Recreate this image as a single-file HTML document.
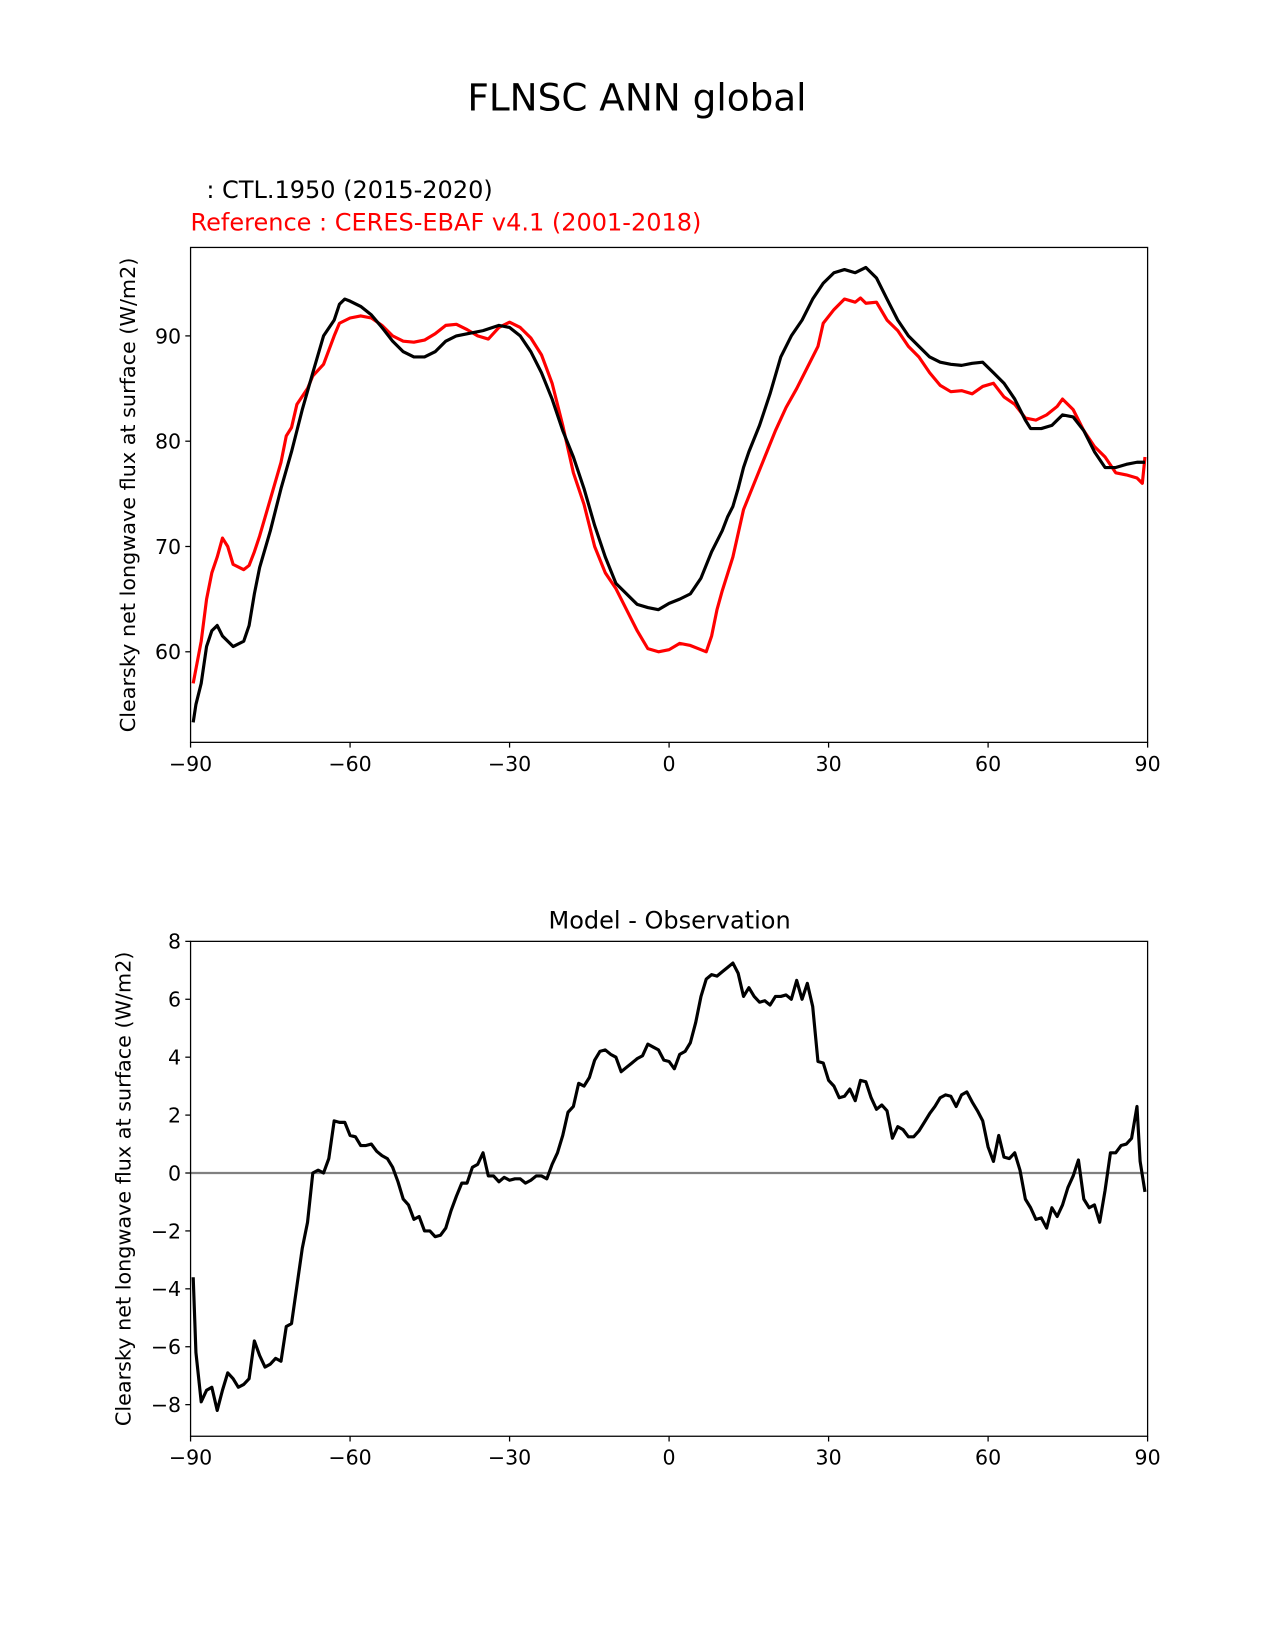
<!DOCTYPE html>
<html><head><meta charset="utf-8"><style>
body{margin:0;background:#fff}
svg{display:block}
svg text{font-family:"DejaVu Sans","Liberation Sans",sans-serif}
</style></head><body>
<svg id="fig" width="1275" height="1650" viewBox="0 0 1211 1567" preserveAspectRatio="none" xmlns="http://www.w3.org/2000/svg">
<rect width="1211" height="1567" fill="#fff"/>
<text x="605" y="105" font-size="35.5" text-anchor="middle">FLNSC ANN global</text>
<text x="196" y="188" font-size="22.8">: CTL.1950 (2015-2020)</text>
<text x="181" y="219" font-size="22.8" fill="#ff0000">Reference : CERES-EBAF v4.1 (2001-2018)</text>
<text transform="translate(128,470) rotate(-90)" font-size="19.7" text-anchor="middle">Clearsky net longwave flux at surface (W/m2)</text>
<text x="636" y="882" font-size="22.8" text-anchor="middle">Model - Observation</text>
<text transform="translate(124,1129) rotate(-90)" font-size="19.7" text-anchor="middle">Clearsky net longwave flux at surface (W/m2)</text>
<g id="top"></g><g id="bot"></g>
</svg>
<script>
const modelLat=[-89.5,-89,-88,-87,-86,-85,-84,-82,-80,-79,-78,-77,-75,-73,-71,-69,-67,-65,-63,-62,-61,-60,-58,-56,-54,-52,-50,-48,-46,-44,-42,-40,-38,-35,-32,-30,-28,-26,-24,-22,-20,-18,-16,-14,-12,-10,-8,-6,-4,-2,0,2,4,6,8,10,11,12,13,14,15,17,19,21,23,25,27,29,31,33,35,37,39,41,43,45,47,49,51,53,55,57,59,61,63,65,67,68,70,72,74,76,78,80,82,84,86,88,89.5];
const modelVal=[53.3,55,57,60.5,62,62.5,61.5,60.5,61,62.5,65.5,68,71.5,75.5,79,83,86.5,90,91.5,93,93.5,93.3,92.8,92,90.8,89.5,88.5,88,88,88.5,89.5,90,90.2,90.5,91,90.8,90,88.5,86.5,84,81,78.5,75.5,72,69,66.5,65.5,64.5,64.2,64,64.6,65,65.5,67,69.5,71.5,72.8,73.8,75.5,77.5,79,81.5,84.5,88,90,91.5,93.5,95,96,96.3,96,96.5,95.5,93.5,91.5,90,89,88,87.5,87.3,87.2,87.4,87.5,86.5,85.5,84,82,81.2,81.2,81.5,82.5,82.3,81,79,77.5,77.5,77.8,78,78];
const refLat=[-89.5,-88,-87,-86,-85,-84,-83,-82,-80,-79,-78,-77,-75,-73,-72,-71,-70,-68,-67,-65,-63,-62,-60,-58,-56,-54,-52,-50,-48,-46,-44,-42,-40,-38,-36,-34,-32,-30,-28,-26,-24,-22,-20,-18,-16,-14,-12,-10,-8,-6,-4,-2,0,2,4,6,7,8,9,10,12,14,16,18,20,22,24,26,28,29,31,33,35,36,37,39,41,43,45,47,49,51,53,55,57,59,61,63,65,67,69,71,73,74,76,78,80,82,84,86,88,89,89.5];
const refVal=[57,61,65,67.5,69,70.8,70,68.3,67.8,68.2,69.5,71,74.5,78,80.5,81.3,83.5,85,86.2,87.3,90,91.2,91.7,91.9,91.7,91,90,89.5,89.4,89.6,90.2,91,91.1,90.6,90,89.7,90.8,91.3,90.8,89.8,88.2,85.5,81.5,77,74,70,67.5,66,64,62,60.3,60,60.2,60.8,60.6,60.2,60,61.5,64,65.8,69,73.5,76,78.5,81,83.2,85,87,89,91.2,92.5,93.5,93.2,93.6,93.1,93.2,91.5,90.5,89,88,86.5,85.3,84.7,84.8,84.5,85.2,85.5,84.2,83.5,82.2,82,82.5,83.3,84,83,81,79.5,78.5,77,76.8,76.5,76,78.5];
const diffLat=[-89.5,-89,-88,-87,-86,-85,-84,-83,-82,-81,-80,-79,-78,-77,-76,-75,-74,-73,-72,-71,-70,-69,-68,-67,-66,-65,-64,-63,-62,-61,-60,-59,-58,-57,-56,-55,-54,-53,-52,-51,-50,-49,-48,-47,-46,-45,-44,-43,-42,-41,-40,-39,-38,-37,-36,-35,-34,-33,-32,-31,-30,-29,-28,-27,-26,-25,-24,-23,-22,-21,-20,-19,-18,-17,-16,-15,-14,-13,-12,-11,-10,-9,-8,-7,-6,-5,-4,-3,-2,-1,0,1,2,3,4,5,6,7,8,9,10,11,12,13,14,15,16,17,18,19,20,21,22,23,24,25,26,27,28,29,30,31,32,33,34,35,36,37,38,39,40,41,42,43,44,45,46,47,48,49,50,51,52,53,54,55,56,57,58,59,60,61,62,63,64,65,66,67,68,69,70,71,72,73,74,75,76,77,78,79,80,81,82,83,84,85,86,87,88,88.6,89.5];
const diffVal=[-3.6,-6.2,-7.9,-7.5,-7.4,-8.2,-7.5,-6.9,-7.1,-7.4,-7.3,-7.1,-5.8,-6.3,-6.7,-6.6,-6.4,-6.5,-5.3,-5.2,-3.9,-2.6,-1.7,0,0.1,0,0.5,1.8,1.75,1.75,1.3,1.25,0.95,0.95,1.0,0.75,0.6,0.5,0.2,-0.3,-0.9,-1.1,-1.6,-1.5,-2.0,-2.0,-2.2,-2.15,-1.9,-1.3,-0.8,-0.35,-0.35,0.2,0.3,0.7,-0.1,-0.1,-0.3,-0.15,-0.25,-0.2,-0.2,-0.35,-0.25,-0.1,-0.1,-0.2,0.3,0.7,1.3,2.1,2.3,3.1,3.0,3.3,3.9,4.2,4.25,4.1,4.0,3.5,3.65,3.8,3.95,4.05,4.45,4.35,4.25,3.9,3.85,3.6,4.1,4.2,4.5,5.2,6.1,6.7,6.85,6.8,6.95,7.1,7.25,6.9,6.1,6.4,6.1,5.9,5.95,5.8,6.1,6.1,6.15,6.0,6.65,6.0,6.55,5.75,3.85,3.8,3.2,3.0,2.6,2.65,2.9,2.5,3.2,3.15,2.6,2.2,2.35,2.15,1.2,1.6,1.5,1.25,1.25,1.45,1.75,2.05,2.3,2.6,2.7,2.65,2.3,2.7,2.8,2.45,2.15,1.8,0.9,0.4,1.3,0.55,0.5,0.7,0.1,-0.9,-1.2,-1.6,-1.55,-1.9,-1.2,-1.5,-1.1,-0.5,-0.1,0.45,-0.9,-1.2,-1.1,-1.7,-0.6,0.7,0.7,0.95,1.0,1.2,2.3,0.4,-0.65];
const xTicks=[-90,-60,-30,0,30,60,90];
const xTickLabels=["\u221290","\u221260","\u221230","0","30","60","90"];
const topYTicks=[60,70,80,90];
const botYTicks=[-8,-6,-4,-2,0,2,4,6,8];
const botYTickLabels=["\u22128","\u22126","\u22124","\u22122","0","2","4","6","8"];

const NS="http://www.w3.org/2000/svg";
function mk(tag,attrs,parent){const e=document.createElementNS(NS,tag);for(const k in attrs)e.setAttribute(k,attrs[k]);parent.appendChild(e);return e;}
const X0=181,X1=1090;
const xs=v=>X0+(v+90)/180*(X1-X0);
function axes(g,top,bottom,ys,yTicks,yLabels,prefix){
  for(let i=0;i<xTicks.length;i++){
    const x=xs(xTicks[i]);
    const t=mk('line',{x1:x,x2:x,y1:bottom,y2:bottom+5,stroke:'#000','stroke-width':1.2},g);
    
    
    const l=mk('text',{x:x,y:bottom+27,'font-size':19.5,'text-anchor':'middle'},g);
    l.textContent=xTickLabels[i];
    
    
  }
  for(let i=0;i<yTicks.length;i++){
    const y=ys(yTicks[i]);
    const t=mk('line',{x1:X0-5,x2:X0,y1:y,y2:y,stroke:'#000','stroke-width':1.2},g);
    
    
    const l=mk('text',{x:X0-9,y:y+7,'font-size':19.5,'text-anchor':'end'},g);
    l.textContent=yLabels[i];
    
    
  }
}
function line(g,lat,val,xs,ys,color,name){
  const d=lat.map((v,i)=>(i?'L':'M')+xs(v).toFixed(1)+','+ys(val[i]).toFixed(1)).join('');
  const p=mk('path',{d:d,fill:'none',stroke:color,'stroke-width':3,'stroke-linejoin':'round'},g);
  
  
}
const gt=document.getElementById('top');
const ysT=v=>319-(v-90)*10;
const clipT=mk('clipPath',{id:'ct'},gt);mk('rect',{x:X0,y:235,width:X1-X0,height:470},clipT);
const gtl=mk('g',{'clip-path':'url(#ct)'},gt);
line(gtl,refLat,refVal,xs,ysT,'#ff0000','reference-line');
line(gtl,modelLat,modelVal,xs,ysT,'#000','model-line');
const fr1=mk('rect',{x:X0,y:235,width:X1-X0,height:470,fill:'none',stroke:'#000','stroke-width':1.2},gt);


axes(gt,235,705,ysT,topYTicks,topYTicks.map(String),'top');
const gb=document.getElementById('bot');
const ysB=v=>1114-v*27.5;
const zl=mk('line',{x1:X0,x2:X1,y1:ysB(0),y2:ysB(0),stroke:'#808080','stroke-width':2.2},gb);


const clipB=mk('clipPath',{id:'cb'},gb);mk('rect',{x:X0,y:894,width:X1-X0,height:470},clipB);
const gbl=mk('g',{'clip-path':'url(#cb)'},gb);
line(gbl,diffLat,diffVal,xs,ysB,'#000','difference-line');
const fr2=mk('rect',{x:X0,y:894,width:X1-X0,height:470,fill:'none',stroke:'#000','stroke-width':1.2},gb);


axes(gb,894,1364,ysB,botYTicks,botYTickLabels,'bottom');
</script>
</body></html>
